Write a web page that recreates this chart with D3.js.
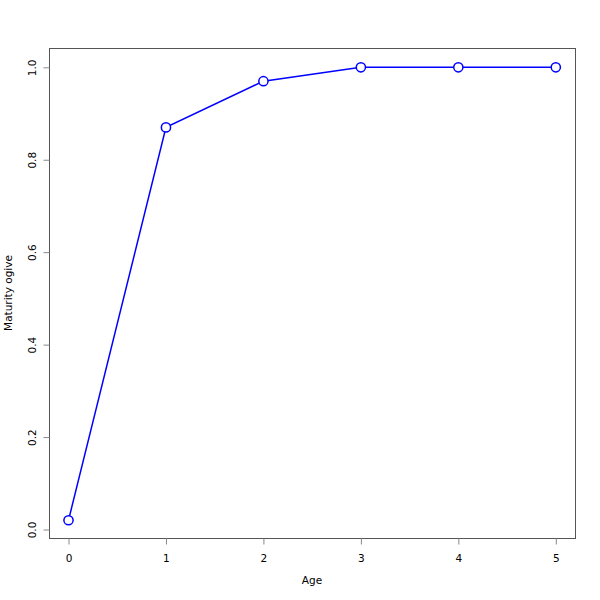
<!DOCTYPE html>
<html><head><meta charset="utf-8">
<script src="https://cdn.jsdelivr.net/npm/d3@7"></script>
<style>body{margin:0;background:#fff}text{font-family:"DejaVu Sans",sans-serif}</style>
</head><body><svg id="c" width="600" height="600"></svg>
<script>
const ages = [0, 1, 2, 3, 4, 5];
const maturity = [0.02, 0.87, 0.97, 1.0, 1.0, 1.0];
const xTicks = [0, 1, 2, 3, 4, 5];
const yTicks = [0.0, 0.2, 0.4, 0.6, 0.8, 1.0];

const svg = d3.select("#c");
const box = {l: 49, t: 48, r: 575, b: 538};
const x = d3.scaleLinear().domain([0, 5]).range([68.5, 555.8]);
const y = d3.scaleLinear().domain([0, 1]).range([529.5, 67.3]);

svg.append("rect").attr("x", box.l + 0.5).attr("y", box.t + 0.5)
  .attr("width", box.r - box.l)
  .attr("height", box.b - box.t).attr("fill", "none").attr("stroke", "#555").attr("stroke-width", 1);

const xa = svg.append("g").attr("transform", `translate(0,${box.b + 0.5})`)
  .call(d3.axisBottom(x).tickValues(xTicks).tickFormat(d3.format("d")).tickSize(6).tickSizeOuter(0));
xa.select(".domain").attr("stroke", "#555").attr("d", `M${x(0)},0H${x(5)}`);
xa.selectAll(".tick line").attr("stroke", "#888");
xa.selectAll(".tick text").attr("font-size", 10.5).attr("dy", "1.35em").attr("fill", "#000");

const ya = svg.append("g").attr("transform", `translate(${box.l + 0.5},0)`)
  .call(d3.axisLeft(y).tickValues(yTicks).tickFormat(d3.format(".1f")).tickSize(6).tickSizeOuter(0));
ya.select(".domain").attr("stroke", "#555").attr("d", `M0,${y(0)}V${y(1)}`);
ya.selectAll(".tick line").attr("stroke", "#888");
ya.selectAll(".tick text").attr("font-size", 10.5).attr("fill", "#000")
  .attr("x", null).attr("dy", null).attr("text-anchor", "middle")
  .attr("transform", "translate(-14,0) rotate(-90)");

svg.append("text").attr("x", 312).attr("y", 584).attr("text-anchor", "middle")
  .attr("font-size", 10.5).attr("fill", "#000").text("Age");
svg.append("text").attr("transform", "translate(12,293) rotate(-90)").attr("text-anchor", "middle")
  .attr("font-size", 10.5).attr("fill", "#000").text("Maturity ogive");

const pts = ages.map((a, i) => [a, maturity[i]]);
svg.append("path").datum(pts)
  .attr("d", d3.line().x(d => x(d[0])).y(d => y(d[1])))
  .attr("fill", "none").attr("stroke", "#0000ff").attr("stroke-width", 1.5);
svg.selectAll("circle.p").data(pts).join("circle").attr("class", "p")
  .attr("cx", d => x(d[0])).attr("cy", d => y(d[1])).attr("r", 4.6)
  .attr("fill", "#fff").attr("stroke", "#0000ff").attr("stroke-width", 1.5);
</script></body></html>
